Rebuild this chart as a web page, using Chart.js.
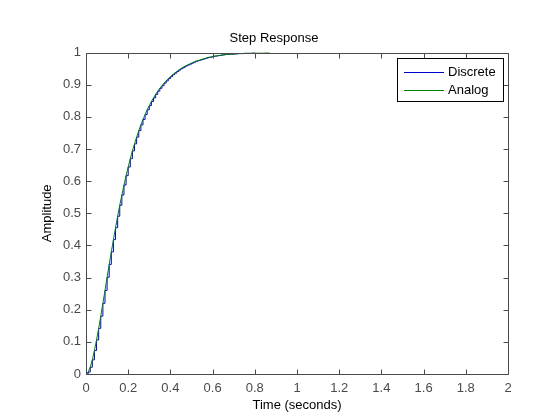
<!DOCTYPE html>
<html>
<head>
<meta charset="utf-8">
<style>
  html, body { margin: 0; padding: 0; background: #ffffff; }
  #wrap { width: 560px; height: 420px; position: relative; }
</style>
<script src="https://cdn.jsdelivr.net/npm/chart.js@4/dist/chart.umd.min.js"></script>
</head>
<body>
<div id="wrap"><canvas id="c" width="560" height="420"></canvas></div>
<script>
// ---- data ----
const timeSec = [0,0.01,0.02,0.03,0.04,0.05,0.06,0.07,0.08,0.09,
  0.10,0.11,0.12,0.13,0.14,0.15,0.16,0.17,0.18,0.19,
  0.20,0.21,0.22,0.23,0.24,0.25,0.26,0.27,0.28,0.29,
  0.30,0.31,0.32,0.33,0.34,0.35,0.36,0.37,0.38,0.39,
  0.40,0.41,0.42,0.43,0.44,0.45,0.46,0.47,0.48,0.49,
  0.50,0.51,0.52,0.53,0.54,0.55,0.56,0.57,0.58,0.59,
  0.60,0.61,0.62,0.63,0.64,0.65,0.66,0.67,0.68,0.69,
  0.70,0.71,0.72,0.73,0.74,0.75,0.76,0.77,0.78,0.79,
  0.80,0.81,0.82,0.83,0.84,0.85,0.86,0.87];
const analogAmp = [0,0.006,0.021,0.044,0.073,0.106,0.142,0.180,0.220,0.260,
  0.301,0.341,0.380,0.418,0.455,0.491,0.525,0.557,0.588,0.617,
  0.644,0.670,0.694,0.716,0.737,0.757,0.775,0.792,0.807,0.822,
  0.835,0.848,0.859,0.870,0.880,0.889,0.897,0.905,0.912,0.919,
  0.925,0.931,0.936,0.941,0.946,0.950,0.954,0.958,0.961,0.964,
  0.967,0.970,0.973,0.975,0.977,0.979,0.981,0.983,0.985,0.986,
  0.988,0.989,0.990,0.991,0.992,0.993,0.994,0.994,0.995,0.995,
  0.996,0.996,0.997,0.997,0.997,0.998,0.998,0.998,0.998,0.999,
  0.999,0.999,0.999,0.999,0.999,1.000,1.000,1.000];
const discreteAmp = [0,0.006,0.021,0.044,0.073,0.106,0.142,0.180,0.220,0.260,
  0.301,0.341,0.380,0.418,0.455,0.491,0.525,0.557,0.588,0.617,
  0.644,0.670,0.694,0.716,0.737,0.757,0.775,0.792,0.807,0.822,
  0.835,0.848,0.859,0.870,0.880,0.889,0.897,0.905,0.912,0.919,
  0.925,0.931,0.936,0.941,0.946,0.950,0.954,0.958,0.961,0.964,
  0.967,0.970,0.973,0.975,0.977,0.979,0.981,0.983,0.985,0.986,
  0.988,0.989,0.990,0.991,0.992,0.993,0.994,0.994,0.995,0.995,
  0.996,0.996,0.997,0.997,0.997,0.998,0.998,0.998,0.998,0.999,
  0.999];
const seriesNames = ['Discrete', 'Analog'];
const xTickValues = [0,0.2,0.4,0.6,0.8,1,1.2,1.4,1.6,1.8,2];
const yTickValues = [0,0.1,0.2,0.3,0.4,0.5,0.6,0.7,0.8,0.9,1];

const FONT = '"Liberation Sans", Arial, Helvetica, sans-serif';
const AXIS_COLOR = '#4a4a4a';
const BLUE = '#0000cc';
const GREEN = '#008000';

const toXY = (ys) => ys.map((y, i) => ({ x: timeSec[i], y: y }));
const fmt = (v) => String(Math.round(v * 10) / 10);

const frame = {
  id: 'frame',
  afterDatasetsDraw(chart) {
    const ctx = chart.ctx, a = chart.chartArea;
    const xs = chart.scales.x, ys = chart.scales.y;
    ctx.save();
    ctx.strokeStyle = AXIS_COLOR;
    ctx.lineWidth = 1;
    ctx.beginPath();
    const L = Math.round(a.left) + 0.5, R = Math.round(a.right) + 0.5;
    const T = Math.round(a.top) + 0.5, B = Math.round(a.bottom) + 0.5;
    ctx.rect(L, T, R - L, B - T);
    const tl = 5;
    xTickValues.forEach(v => {
      const px = Math.round(xs.getPixelForValue(v)) + 0.5;
      ctx.moveTo(px, B); ctx.lineTo(px, B - tl);
      ctx.moveTo(px, T); ctx.lineTo(px, T + tl);
    });
    yTickValues.forEach(v => {
      const py = Math.round(ys.getPixelForValue(v)) + 0.5;
      ctx.moveTo(L, py); ctx.lineTo(L + tl, py);
      ctx.moveTo(R, py); ctx.lineTo(R - tl, py);
    });
    ctx.stroke();

    // legend box
    const bx = 397.5, by = 58.5, bw = 106, bh = 43;
    ctx.fillStyle = '#ffffff';
    ctx.fillRect(bx, by, bw, bh);
    ctx.strokeStyle = '#000000';
    ctx.strokeRect(bx, by, bw, bh);
    const items = [
      { name: seriesNames[0], color: BLUE, y: 72 },
      { name: seriesNames[1], color: GREEN, y: 90 }
    ];
    ctx.font = '13px ' + FONT;
    ctx.textBaseline = 'middle';
    ctx.textAlign = 'left';
    items.forEach(it => {
      ctx.strokeStyle = it.color;
      ctx.beginPath();
      ctx.moveTo(404, it.y + 0.5); ctx.lineTo(444, it.y + 0.5);
      ctx.stroke();
      ctx.fillStyle = '#000000';
      ctx.fillText(it.name, 448, it.y + 0.5);
    });
    ctx.restore();
  }
};

new Chart(document.getElementById('c'), {
  type: 'line',
  data: {
    datasets: [
      {
        label: seriesNames[1],
        data: toXY(analogAmp),
        borderColor: GREEN,
        borderWidth: 1,
        pointRadius: 0,
        tension: 0,
        fill: false,
        order: 0
      },
      {
        label: seriesNames[0],
        data: toXY(discreteAmp),
        borderColor: BLUE,
        borderWidth: 1,
        pointRadius: 0,
        stepped: 'before',
        fill: false,
        order: 1
      }
    ]
  },
  options: {
    responsive: false,
    animation: false,
    devicePixelRatio: 1,
    layout: { padding: { left: 40, right: 52, top: 0, bottom: 0 } },
    plugins: {
      legend: { display: false },
      tooltip: { enabled: false },
      title: {
        display: true,
        text: 'Step Response',
        color: '#000000',
        font: { family: FONT, size: 13, weight: 'normal' },
        padding: { top: 31, bottom: 6 }
      }
    },
    scales: {
      x: {
        type: 'linear',
        min: 0, max: 2,
        afterBuildTicks: (s) => { s.ticks = xTickValues.map(v => ({ value: v })); },
        afterFit: (s) => { s.height = 46; },
        grid: { display: false, drawTicks: false },
        border: { display: false },
        ticks: {
          color: AXIS_COLOR,
          font: { family: FONT, size: 13 },
          padding: 7,
          maxRotation: 0,
          autoSkip: false,
          callback: (v) => fmt(v)
        },
        title: {
          display: true,
          text: 'Time (seconds)',
          color: '#000000',
          font: { family: FONT, size: 13 },
          padding: { top: 2, bottom: 7 }
        }
      },
      y: {
        type: 'linear',
        min: 0, max: 1,
        afterBuildTicks: (s) => { s.ticks = yTickValues.map(v => ({ value: v })); },
        afterFit: (s) => { s.width = 46; },
        grid: { display: false, drawTicks: false },
        border: { display: false },
        ticks: {
          color: AXIS_COLOR,
          font: { family: FONT, size: 13 },
          padding: 5,
          autoSkip: false,
          callback: (v) => fmt(v)
        },
        title: {
          display: true,
          text: 'Amplitude',
          color: '#000000',
          font: { family: FONT, size: 13 },
          padding: { top: 0, bottom: 0 }
        }
      }
    }
  },
  plugins: [frame]
});
</script>
</body>
</html>
